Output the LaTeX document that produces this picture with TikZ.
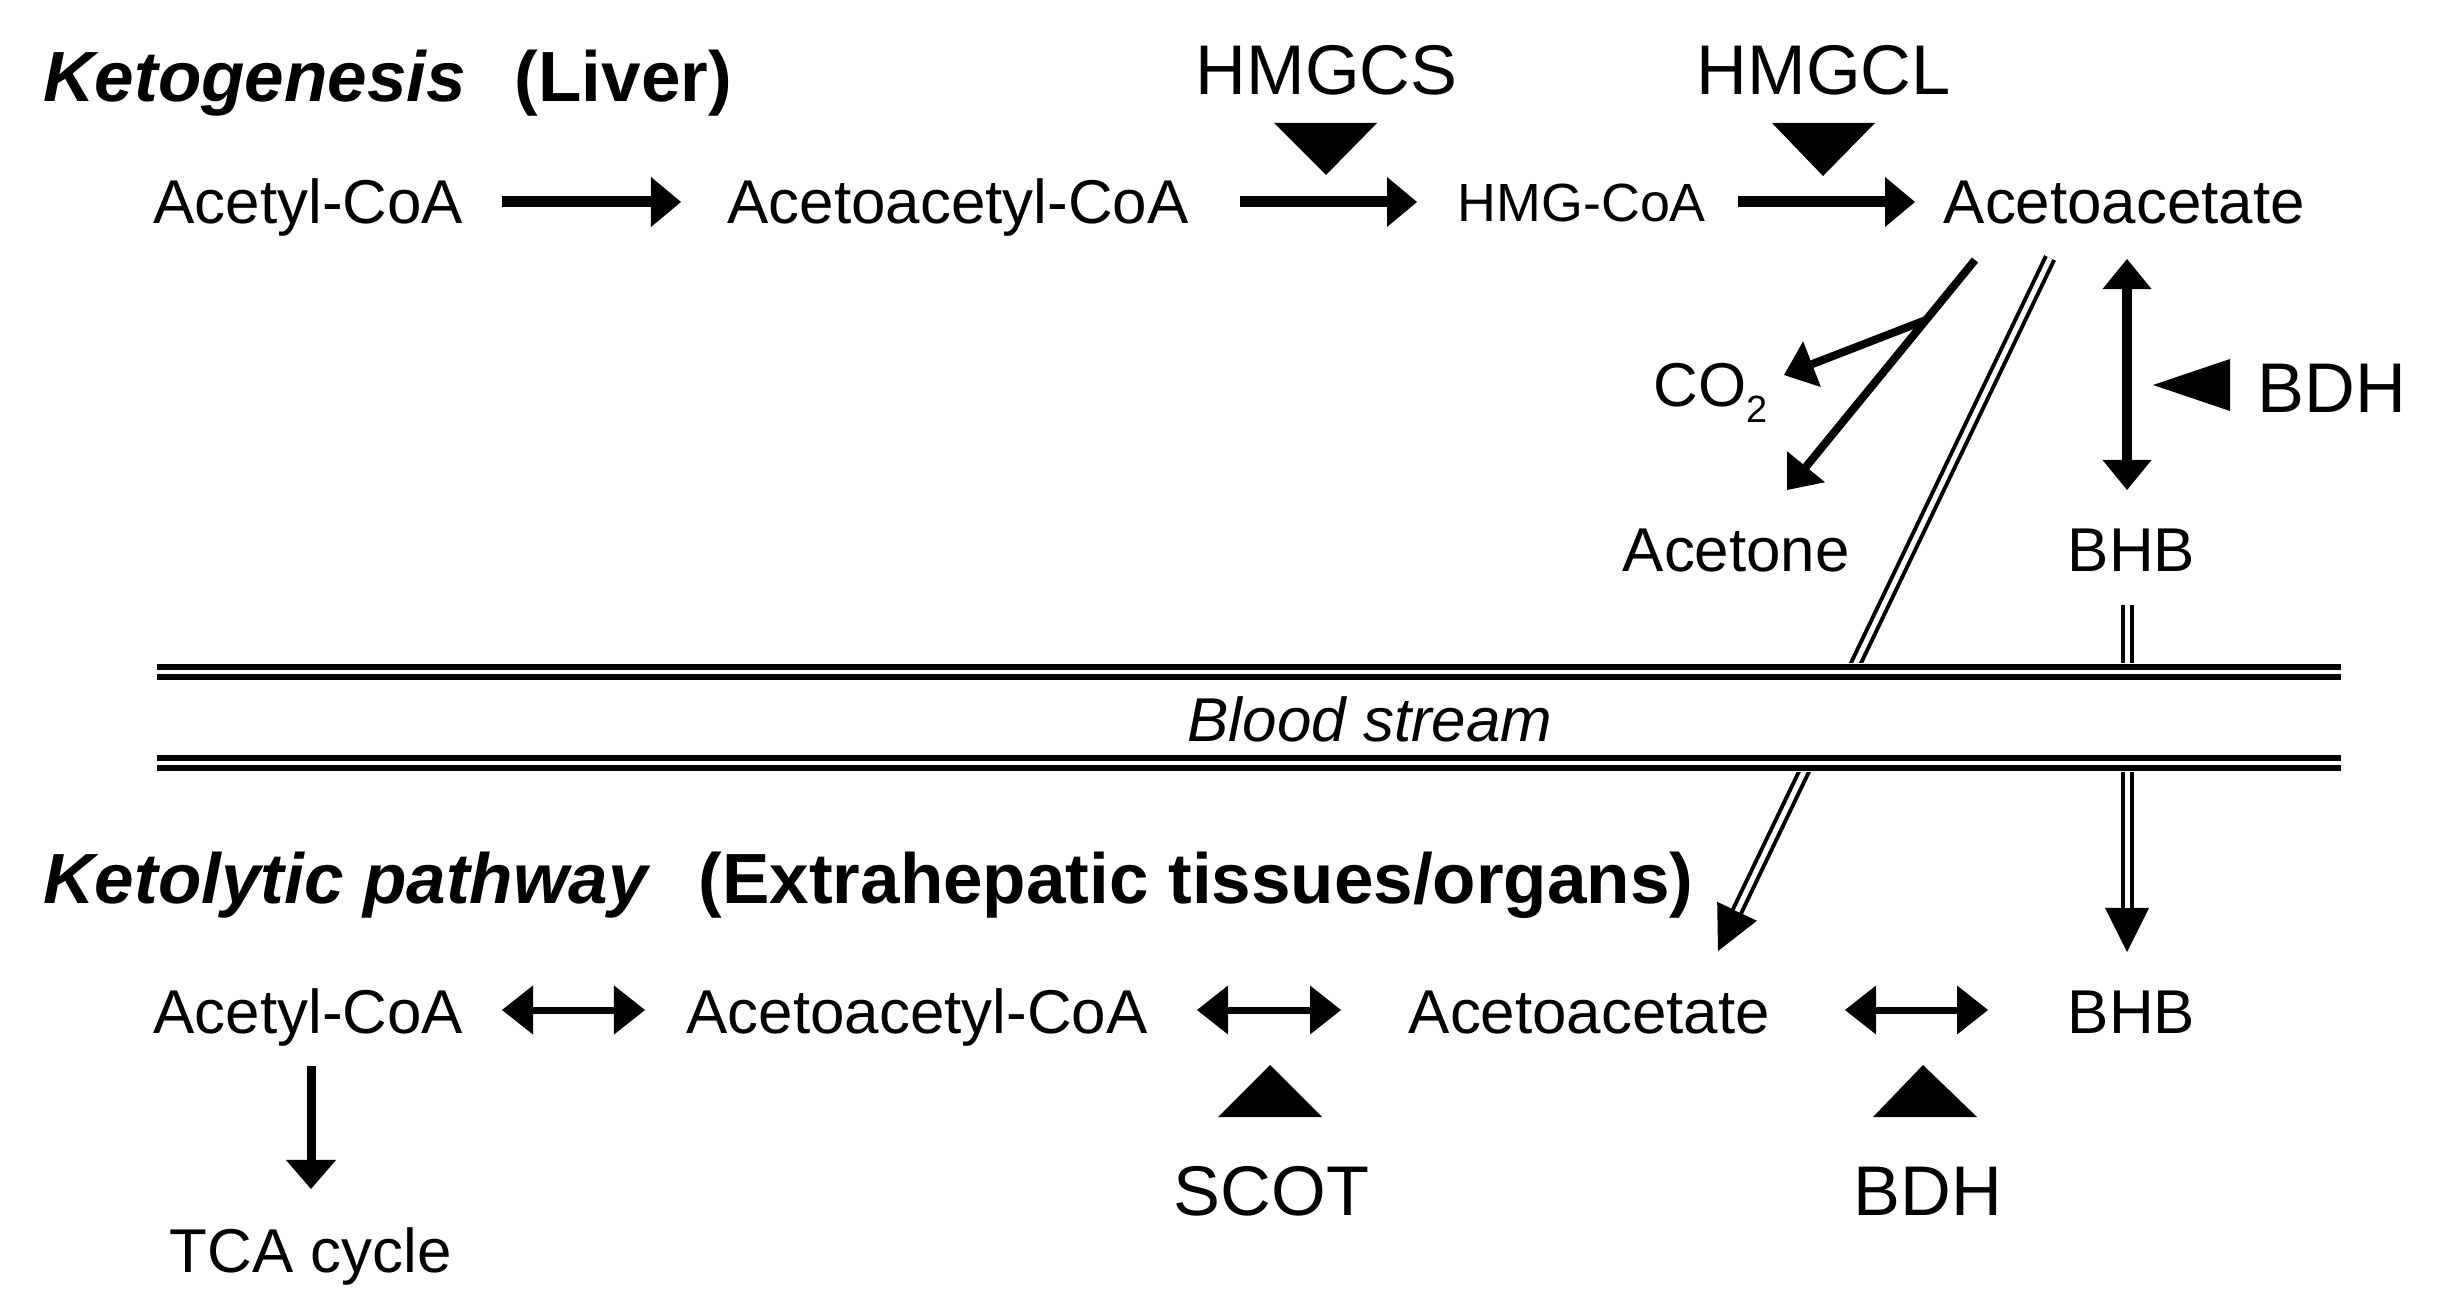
\documentclass[tikz,border=0pt]{standalone}
\usepackage{fontspec}
\setmainfont{Liberation Sans}
\usetikzlibrary{arrows.meta}
\begin{document}
\begin{tikzpicture}[x=0.01cm,y=-0.01cm,
  txt/.style={inner sep=0pt, anchor=base west, font=\fontsize{17.6pt}{20pt}\selectfont},
  enz/.style={inner sep=0pt, anchor=base west, font=\fontsize{20pt}{23pt}\selectfont},
  smalltxt/.style={inner sep=0pt, anchor=base west, font=\fontsize{15.3pt}{18pt}\selectfont},
  ttl/.style={inner sep=0pt, anchor=base west, font=\fontsize{20.2pt}{23pt}\selectfont\bfseries\itshape},
  ttlb/.style={inner sep=0pt, anchor=base west, font=\fontsize{20.2pt}{23pt}\selectfont\bfseries},
  fwd/.style={line width=0.11cm, -{Triangle[length=0.30cm,width=0.50cm,line width=0pt]}},
  thin/.style={line width=0.09cm, -{Triangle[length=0.29cm,width=0.50cm,line width=0pt]}},
  diag/.style={line width=0.08cm, -{Triangle[length=0.30cm,width=0.49cm,line width=0pt]}},
  bidir/.style={line width=0.10cm, {Triangle[length=0.30cm,width=0.49cm,line width=0pt]}-{Triangle[length=0.30cm,width=0.49cm,line width=0pt]}},
  bidirlow/.style={line width=0.07cm, {Triangle[length=0.31cm,width=0.49cm,line width=0pt]}-{Triangle[length=0.31cm,width=0.49cm,line width=0pt]}},
  dblout/.style={line width=0.13cm, -{Triangle[length=0.44cm,width=0.44cm,line width=0pt]}},
  dblin/.style={white, line width=0.05cm, shorten >=0.44cm},
  bloodline/.style={line width=0.06cm, double, double distance=0.04cm},
  enzmark/.style={fill=black, draw=none}
]
\useasboundingbox (0,0) rectangle (2455,1310);

% ---------- titles ----------
\node[ttl]  (t1)  at (43,102) {Ketogenesis};
\node[ttlb] (t1b) at (514,102) {(Liver)};
\node[ttl]  (t2)  at (43,903) {Ketolytic pathway};
\node[ttlb] (t2b) at (698,903) {(Extrahepatic tissues/organs)};

% ---------- top row ----------
\node[txt] (acA) at (153,224) {Acetyl-CoA};
\node[txt] (aacA) at (727,224) {Acetoacetyl-CoA};
\node[smalltxt] (hmg) at (1457,222) {HMG-CoA};
\node[txt] (aa) at (1943,224) {Acetoacetate};
\node[enz] (hmgcs) at (1195,95) {HMGCS};
\node[enz] (hmgcl) at (1696,95) {HMGCL};

\coordinate (a1s) at (502,202);  \coordinate (a1e) at (681,202);
\coordinate (a2s) at (1240,202); \coordinate (a2e) at (1417,202);
\coordinate (a3s) at (1738,202); \coordinate (a3e) at (1915,202);
\draw[fwd] (a1s) -- (a1e);
\draw[fwd] (a2s) -- (a2e);
\draw[fwd] (a3s) -- (a3e);

\fill[enzmark] (1274,123) -- (1377,123) -- (1326,175) -- cycle;
\fill[enzmark] (1772,123) -- (1875,123) -- (1823,176) -- cycle;

% ---------- liver side branch ----------
\node[txt] (co2) at (1653,407) {CO\raisebox{-0.15cm}{\fontsize{10.8pt}{12pt}\selectfont 2}};
\node[txt] (acetone) at (1622,572) {Acetone};
\node[txt] (bhb1) at (2067,572) {BHB};
\node[enz] (bdh1) at (2257,413) {BDH};

\coordinate (d0) at (1975,260);
\coordinate (dAc) at (1787,490);
\coordinate (dbr) at (1926,320);
\coordinate (dCO) at (1784,375);
\draw[diag] (d0) -- (dAc);
\draw[diag] (dbr) -- (dCO);

\coordinate (v1) at (2127,259); \coordinate (v2) at (2127,490);
\draw[bidir] (v1) -- (v2);
\fill[enzmark] (2153,385) -- (2230,359) -- (2230,411) -- cycle;

% ---------- transport (double lines) ----------
\coordinate (x1) at (2050,258); \coordinate (x2) at (1718,951);
\draw[dblout] (x1) -- (x2);
\draw[dblin] (x1) -- (x2);
\coordinate (y1) at (2127,605); \coordinate (y2) at (2127,952);
\draw[dblout] (y1) -- (y2);
\draw[dblin] (y1) -- (y2);

% ---------- blood stream ----------
\fill[white] (150,663) rectangle (2350,772);
\coordinate (bl1) at (157,672); \coordinate (br1) at (2341,672);
\coordinate (bl2) at (157,763); \coordinate (br2) at (2341,763);
\draw[bloodline] (bl1) -- (br1);
\draw[bloodline] (bl2) -- (br2);
\node[inner sep=0pt, anchor=base, font=\fontsize{17.6pt}{20pt}\selectfont\itshape] (blood) at (1370,742) {Blood stream};

% ---------- bottom row ----------
\node[txt] (acB) at (153,1033) {Acetyl-CoA};
\node[txt] (aacB) at (686,1033) {Acetoacetyl-CoA};
\node[txt] (aaB) at (1408,1033) {Acetoacetate};
\node[txt] (bhb2) at (2067,1033) {BHB};
\node[txt] (tca) at (169,1272) {TCA cycle};
\node[enz] (scot) at (1173,1215) {SCOT};
\node[enz] (bdh2) at (1853,1215) {BDH};

\coordinate (b1s) at (502,1010);  \coordinate (b1e) at (645,1010);
\coordinate (b2s) at (1197,1010); \coordinate (b2e) at (1341,1010);
\coordinate (b3s) at (1845,1010); \coordinate (b3e) at (1988,1010);
\draw[bidirlow] (b1s) -- (b1e);
\draw[bidirlow] (b2s) -- (b2e);
\draw[bidirlow] (b3s) -- (b3e);

\coordinate (c1) at (311,1066); \coordinate (c2) at (311,1189);
\draw[thin] (c1) -- (c2);

\fill[enzmark] (1270,1065) -- (1322,1117) -- (1218,1117) -- cycle;
\fill[enzmark] (1923,1065) -- (1977,1117) -- (1873,1117) -- cycle;
\end{tikzpicture}
\end{document}
